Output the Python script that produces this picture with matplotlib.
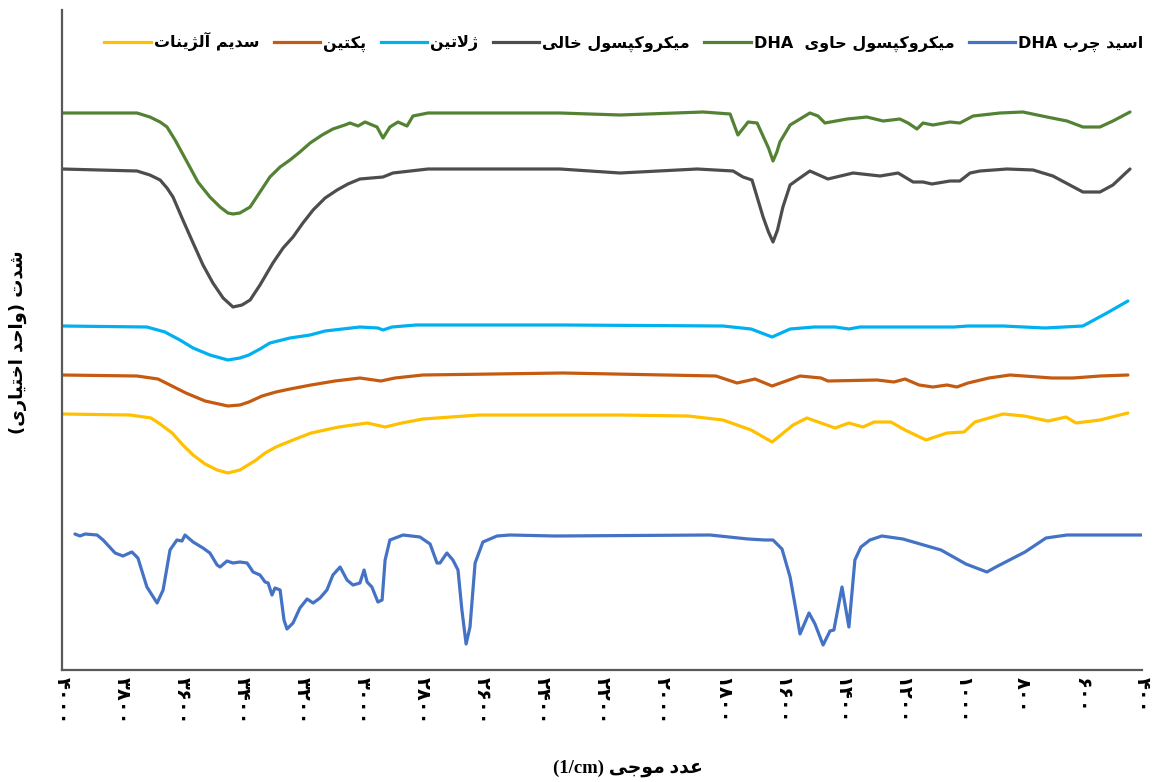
"""
FTIR spectra of DHA, wall materials and microcapsules (Persian labels).
"""
import matplotlib
matplotlib.use("Agg")
import matplotlib.pyplot as plt
from matplotlib.lines import Line2D

plt.rcParams["font.family"] = ["DejaVu Sans"]

# ── data (wavenumber in 1/cm, intensity in arbitrary offset units) ───────────
wn_caps_dha = [4000, 3750, 3707, 3673, 3650, 3623, 3583, 3547, 3507, 3473, 3447,
               3430, 3407, 3373, 3340, 3307, 3273, 3240, 3207, 3173, 3133, 3097,
               3057, 3040, 3013, 2990, 2950, 2930, 2907, 2880, 2850, 2830, 2780,
               2340, 2140, 1863, 1773, 1747, 1713, 1683, 1645, 1630, 1617, 1607,
               1573, 1507, 1480, 1457, 1383, 1317, 1263, 1207, 1180, 1150, 1130,
               1097, 1040, 1007, 963, 873, 797, 717, 650, 597, 540, 497, 440]
y_caps_dha = [557, 557, 553, 548, 543, 530, 508, 488, 473, 463, 457,
              456, 457, 463, 478, 493, 503, 510, 518, 527, 535, 541,
              545, 547, 544, 548, 543, 532, 543, 548, 544, 554, 557,
              557, 555, 558, 556, 535, 548, 547, 522, 509, 518, 528,
              545, 557, 554, 547, 551, 553, 549, 551, 547, 541, 547,
              545, 548, 547, 554, 557, 558, 553, 549, 543, 543, 549, 558]

wn_caps_empty = [4000, 3750, 3707, 3673, 3650, 3630, 3597, 3563, 3530, 3497, 3463,
                 3430, 3400, 3373, 3340, 3297, 3263, 3230, 3197, 3163, 3123, 3083,
                 3047, 3007, 2930, 2897, 2780, 2340, 2140, 1883, 1763, 1730, 1700,
                 1663, 1645, 1630, 1615, 1597, 1573, 1550, 1507, 1447, 1363, 1273,
                 1213, 1163, 1130, 1100, 1040, 1007, 973, 940, 850, 763, 697, 597,
                 540, 497, 440]
y_caps_empty = [501, 499, 495, 490, 482, 473, 450, 427, 405, 387, 372,
                363, 365, 370, 385, 407, 422, 433, 447, 460, 472, 480,
                486, 491, 493, 497, 501, 501, 497, 501, 499, 493, 490,
                453, 438, 428, 440, 463, 485, 490, 499, 491, 497, 494,
                497, 488, 488, 486, 489, 489, 497, 499, 501, 500, 494, 478,
                478, 485, 501]

wn_gelatin = [4000, 3717, 3657, 3607, 3563, 3507, 3447, 3407, 3377, 3340, 3307,
              3240, 3173, 3123, 3007, 2947, 2930, 2900, 2820, 2330, 1797, 1703,
              1633, 1573, 1493, 1423, 1377, 1340, 1027, 980, 863, 723, 597, 517, 447]
y_gelatin = [344, 343, 338, 330, 322, 315, 310, 312, 315, 321, 327,
             332, 335, 339, 343, 342, 340, 343, 345, 345, 344, 341,
             333, 341, 343, 343, 341, 343, 343, 344, 344, 342, 344, 357, 369]

wn_pectin = [4000, 3750, 3680, 3640, 3587, 3523, 3447, 3407, 3377, 3333, 3287,
             3240, 3170, 3090, 3007, 2937, 2890, 2797, 2330, 1820, 1750, 1690,
             1633, 1540, 1470, 1447, 1283, 1227, 1190, 1143, 1097, 1050, 1017,
             980, 910, 840, 700, 630, 540, 447]
y_pectin = [295, 294, 291, 285, 277, 269, 264, 265, 268, 274, 278,
            281, 285, 289, 292, 289, 292, 295, 297, 294, 287, 291,
            284, 294, 292, 289, 290, 288, 291, 285, 283, 285, 283,
            287, 292, 295, 292, 292, 294, 295]

wn_alginate = [4000, 3773, 3703, 3673, 3633, 3597, 3563, 3523, 3483, 3447, 3407,
               3353, 3323, 3287, 3230, 3170, 3077, 2983, 2923, 2867, 2797, 2610,
               2143, 1913, 1797, 1703, 1633, 1563, 1517, 1470, 1423, 1377, 1330,
               1293, 1237, 1190, 1120, 1050, 993, 957, 863, 793, 713, 653, 620,
               540, 447]
y_alginate = [256, 255, 252, 246, 237, 225, 215, 206, 200, 197, 200,
              210, 217, 223, 230, 237, 243, 247, 243, 247, 251, 255,
              255, 254, 250, 240, 228, 245, 252, 247, 242, 247, 243,
              248, 248, 240, 230, 237, 238, 248, 256, 254, 249, 253, 247,
              250, 257]

wn_dha = [3957, 3940, 3923, 3883, 3863, 3823, 3797, 3767, 3747, 3717, 3683,
          3663, 3640, 3617, 3600, 3590, 3563, 3530, 3507, 3483, 3473, 3450,
          3430, 3407, 3383, 3363, 3340, 3323, 3313, 3300, 3290, 3273, 3260,
          3250, 3230, 3207, 3183, 3163, 3140, 3117, 3097, 3073, 3050, 3030,
          3007, 2993, 2983, 2967, 2947, 2933, 2923, 2907, 2863, 2807, 2773,
          2750, 2740, 2717, 2697, 2680, 2667, 2653, 2640, 2623, 2597, 2550,
          2507, 2357, 1840, 1713, 1657, 1630, 1600, 1573, 1553, 1540, 1510,
          1490, 1463, 1440, 1427, 1400, 1377, 1357, 1337, 1307, 1267, 1197,
          1070, 987, 917, 887, 790, 720, 650, 400]
y_dha = [136, 134, 136, 135, 130, 117, 114, 118, 112, 83, 67,
         80, 120, 130, 129, 135, 128, 122, 117, 105, 103, 109,
         107, 108, 107, 98, 95, 88, 87, 75, 82, 80, 50,
         41, 47, 62, 71, 67, 72, 80, 95, 103, 90, 85,
         87, 100, 88, 83, 68, 70, 110, 130, 135, 133, 126,
         107, 107, 117, 110, 100, 60, 26, 43, 107, 128, 134,
         135, 134, 135, 131, 130, 130, 121, 93, 59, 36, 57,
         46, 25, 39, 40, 83, 43, 110, 123, 130, 134, 131,
         120, 106, 98, 103, 118, 132, 135, 135]

tick_values = [4000, 3800, 3600, 3400, 3200, 3000, 2800, 2600, 2400, 2200,
               2000, 1800, 1600, 1400, 1200, 1000, 800, 600, 400]

# ── minimal Persian shaping (matplotlib has no RTL/joining support) ──────────
FORMS = {
    "ا": ("\uFE8D", "\uFE8E", None, None),
    "آ": ("\uFE81", "\uFE82", None, None),
    "ب": ("\uFE8F", "\uFE90", "\uFE91", "\uFE92"),
    "پ": ("\uFB56", "\uFB57", "\uFB58", "\uFB59"),
    "ت": ("\uFE95", "\uFE96", "\uFE97", "\uFE98"),
    "ج": ("\uFE9D", "\uFE9E", "\uFE9F", "\uFEA0"),
    "چ": ("\uFB7A", "\uFB7B", "\uFB7C", "\uFB7D"),
    "ح": ("\uFEA1", "\uFEA2", "\uFEA3", "\uFEA4"),
    "خ": ("\uFEA5", "\uFEA6", "\uFEA7", "\uFEA8"),
    "د": ("\uFEA9", "\uFEAA", None, None),
    "ر": ("\uFEAD", "\uFEAE", None, None),
    "ژ": ("\uFB8A", "\uFB8B", None, None),
    "س": ("\uFEB1", "\uFEB2", "\uFEB3", "\uFEB4"),
    "ش": ("\uFEB5", "\uFEB6", "\uFEB7", "\uFEB8"),
    "ع": ("\uFEC9", "\uFECA", "\uFECB", "\uFECC"),
    "ک": ("\uFB8E", "\uFB8F", "\uFB90", "\uFB91"),
    "ل": ("\uFEDD", "\uFEDE", "\uFEDF", "\uFEE0"),
    "م": ("\uFEE1", "\uFEE2", "\uFEE3", "\uFEE4"),
    "ن": ("\uFEE5", "\uFEE6", "\uFEE7", "\uFEE8"),
    "و": ("\uFEED", "\uFEEE", None, None),
    "ی": ("\uFBFC", "\uFBFD", "\uFBFE", "\uFBFF"),
}
LAM_ALEF = {"ا": ("\uFEFB", "\uFEFC"), "آ": ("\uFEF5", "\uFEF6")}


def dual(c):
    return c in FORMS and FORMS[c][2] is not None


def rtl(s):
    out, i, n = [], 0, len(s)
    while i < n:
        c = s[i]
        if c not in FORMS:
            out.append({"(": ")", ")": "("}.get(c, c))
            i += 1
            continue
        jp = i > 0 and dual(s[i - 1])
        if c == "ل" and i + 1 < n and s[i + 1] in LAM_ALEF:
            out.append(LAM_ALEF[s[i + 1]][1 if jp else 0])
            i += 2
            continue
        jn = dual(c) and i + 1 < n and s[i + 1] in FORMS
        iso, fin, ini, med = FORMS[c]
        out.append(med if jp and jn else fin if jp else ini if jn else iso)
        i += 1
    return "".join(out)[::-1]


def fa_digits(v):
    return str(v).translate(str.maketrans("0123456789", "۰۱۲۳۴۵۶۷۸۹"))


# ── figure ───────────────────────────────────────────────────────────────────
fig = plt.figure(figsize=(11.6, 7.82), dpi=100)
ax = fig.add_axes([62 / 1160, 1 - 670 / 782, 1080 / 1160, 660 / 782])

LW = 2.3
series = [
    (wn_alginate,   y_alginate,   "#FFC000", rtl("سدیم آلژینات")),
    (wn_pectin,     y_pectin,     "#C55A11", rtl("پکتین")),
    (wn_gelatin,    y_gelatin,    "#00B0F0", rtl("ژلاتین")),
    (wn_caps_empty, y_caps_empty, "#4D4D4D", rtl("میکروکپسول خالی")),
    (wn_caps_dha,   y_caps_dha,   "#548235", "DHA  " + rtl("میکروکپسول حاوی")),
    (wn_dha,        y_dha,        "#4472C4", "DHA " + rtl("اسید چرب")),
]
handles = []
for x, y, col, lbl in series:
    ax.plot(x, y, color=col, lw=LW, solid_joinstyle="round", solid_capstyle="round")
    handles.append(Line2D([], [], color=col, lw=LW, label=lbl))

ax.set_xlim(4000, 400)
ax.set_ylim(0, 660)
ax.set_yticks([])
ax.set_xticks(tick_values)
ax.set_xticklabels([fa_digits(v) for v in tick_values], rotation=-90,
                   fontsize=14, fontweight="bold")
ax.tick_params(axis="x", length=0, pad=5)
for side in ("top", "right"):
    ax.spines[side].set_visible(False)
ax.spines["left"].set_color("#595959")
ax.spines["left"].set_linewidth(1.6)
ax.spines["bottom"].set_color("#595959")
ax.spines["bottom"].set_linewidth(1.6)

fig.legend(handles=handles, loc="center", bbox_to_anchor=(624 / 1160, 1 - 42 / 782),
           ncol=6, frameon=False, handlelength=2.9, handletextpad=0.2,
           columnspacing=0.9, prop={"weight": "bold", "size": 11.5})

fig.text(18 / 1160, 1 - 342 / 782, rtl("شدت (واحد اختیاری)"), rotation=90,
         ha="center", va="center", fontsize=13, fontweight="bold")
fig.text(628 / 1160, 1 - 768 / 782, "(1/cm) " + rtl("عدد موجی"),
         ha="center", va="center", fontsize=13.5, fontweight="bold",
         family=["Liberation Serif", "DejaVu Sans"])

fig.savefig("out.png", dpi=100, facecolor="white")
